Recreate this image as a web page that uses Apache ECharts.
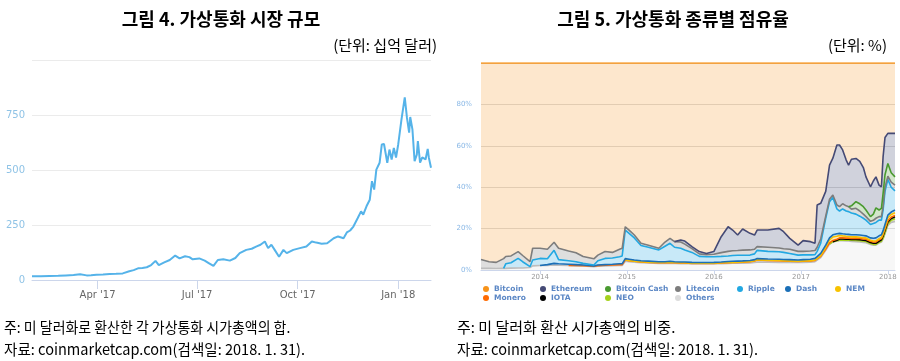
<!DOCTYPE html>
<html><head><meta charset="utf-8">
<script src="https://cdn.jsdelivr.net/npm/echarts@6/dist/echarts.min.js"></script>
<style>html,body{margin:0;padding:0;background:#fff}#c{width:900px;height:361px}</style>
</head><body><div id="c"></div>
<script>
// ---------- Figure 4: total market cap (billion USD) ----------
const capDates = ['2017-01-31','2017-02-08','2017-02-16','2017-02-24','2017-03-03','2017-03-10','2017-03-16','2017-03-22','2017-03-26','2017-03-31',
'2017-04-06','2017-04-12','2017-04-18','2017-04-24','2017-04-30','2017-05-04','2017-05-08','2017-05-12','2017-05-16','2017-05-20',
'2017-05-24','2017-05-27','2017-06-01','2017-06-06','2017-06-11','2017-06-15','2017-06-20','2017-06-24','2017-06-27','2017-07-03',
'2017-07-08','2017-07-12','2017-07-16','2017-07-20','2017-07-25','2017-07-31','2017-08-05','2017-08-09','2017-08-15','2017-08-20',
'2017-08-24','2017-08-28','2017-09-01','2017-09-04','2017-09-07','2017-09-10','2017-09-14','2017-09-18','2017-09-21','2017-09-27',
'2017-10-03','2017-10-09','2017-10-14','2017-10-18','2017-10-23','2017-10-28','2017-11-03','2017-11-07','2017-11-12','2017-11-15',
'2017-11-18','2017-11-21','2017-11-25','2017-11-28','2017-11-30','2017-12-03','2017-12-06','2017-12-08','2017-12-10','2017-12-12',
'2017-12-15','2017-12-17','2017-12-19','2017-12-20','2017-12-22','2017-12-24','2017-12-26','2017-12-28','2017-12-30','2018-01-01',
'2018-01-04','2018-01-07','2018-01-09','2018-01-10','2018-01-11','2018-01-12','2018-01-14','2018-01-16','2018-01-18','2018-01-19',
'2018-01-21','2018-01-23','2018-01-26','2018-01-28','2018-01-29','2018-01-31'];
const capValues = [17,17,18,19,21,23,26,21,22,24,
25,27,28,30,40,45,53,55,58,68,
87,68,80,91,111,98,108,104,94,98,
88,76,64,91,94,88,100,122,137,142,
152,160,175,145,160,137,106,137,122,137,
145,152,175,170,165,167,190,198,190,216,
225,243,282,312,297,335,365,449,411,502,
533,616,618,616,533,593,548,600,557,616,
730,830,738,740,670,741,685,540,570,631,
533,557,548,596,557,510];
const capXTicks = ['2017-04-01','2017-07-01','2017-10-01','2018-01-01'];
const monthNames = ['Jan','Feb','Mar','Apr','May','Jun','Jul','Aug','Sep','Oct','Nov','Dec'];

// ---------- Figure 5: dominance (%) ----------
const shareDates = ['2013-04-28','2013-06-01','2013-07-01','2013-08-01','2013-08-10','2013-09-01','2013-10-01','2013-10-20','2013-11-20','2013-12-01',
'2014-01-01','2014-02-01','2014-03-01','2014-03-20','2014-05-01','2014-06-01','2014-07-01','2014-08-15','2014-09-01','2014-10-01',
'2014-11-01','2014-12-01','2014-12-12','2014-12-25','2015-01-10','2015-02-01','2015-03-01','2015-04-01','2015-05-15','2015-06-10',
'2015-07-01','2015-07-20','2015-08-15','2015-09-01','2015-10-01','2015-11-01','2015-12-01','2016-01-01','2016-02-01','2016-03-01',
'2016-03-20','2016-04-10','2016-05-01','2016-06-01','2016-06-20','2016-07-01','2016-08-15','2016-10-01','2016-10-20','2016-11-15',
'2016-12-20','2017-01-10','2017-02-10','2017-03-01','2017-03-10','2017-03-25','2017-04-15','2017-05-01','2017-05-15','2017-06-01',
'2017-06-12','2017-06-25','2017-07-10','2017-07-20','2017-08-01','2017-08-20','2017-09-05','2017-09-20','2017-10-01','2017-10-20',
'2017-11-01','2017-11-12','2017-11-25','2017-12-05','2017-12-12','2017-12-20','2018-01-01','2018-01-15','2018-01-31'];
const N = null;
const others = [0.8,0.8,0.7,0.8,0.8,0.9,1.0,1.0,1.2,2.0,
2.2,2.2,2.4,2.3,2.2,2.0,1.9,1.6,1.8,2.0,
2.1,2.2,2.2,4.2,4.0,3.8,3.5,3.4,3.2,3.2,
3.3,3.2,3.1,3.1,3.0,3.0,3.0,3.0,3.1,3.2,
3.3,3.3,3.3,3.4,3.6,3.8,3.8,3.7,3.7,3.7,
3.6,3.7,3.8,4.0,4.8,6.0,9.5,12.5,13.5,14.0,
14.2,14.2,14.0,14.0,13.8,13.7,13.5,13.3,13.2,12.3,
12.0,12.0,13.0,13.5,15.0,17.5,21.5,23.0,23.5];
const neo = [N,N,N,N,N,N,N,N,N,N, N,N,N,N,N,N,N,N,N,N, N,N,N,N,N,N,N,N,N,N, N,N,N,N,N,N,N,N,N,N, N,N,N,N,N,N,N,N,N,N,
N,N,N,N,N,N,N,0,0.2,0.2,
0.2,0.3,0.4,0.4,0.6,0.6,0.6,0.6,0.6,0.5,
0.4,0.4,0.4,0.4,0.4,0.5,0.8,1.0,1.2];
const iota = [N,N,N,N,N,N,N,N,N,N, N,N,N,N,N,N,N,N,N,N, N,N,N,N,N,N,N,N,N,N, N,N,N,N,N,N,N,N,N,N, N,N,N,N,N,N,N,N,N,N,
N,N,N,N,N,N,N,N,0,0.2,
0.6,0.5,0.5,0.5,0.4,0.5,0.5,0.5,0.5,0.5,
0.5,0.5,0.5,0.7,1.1,1.2,0.9,0.9,1.0];
const monero = [N,N,N,N,N,N,N,N,N,N,
N,N,N,N,0,0.2,0.2,0.2,0.3,0.3,
0.3,0.4,0.4,0.6,0.5,0.4,0.4,0.3,0.3,0.3,
0.3,0.3,0.3,0.3,0.2,0.2,0.2,0.2,0.3,0.3,
0.3,0.4,0.5,0.6,0.8,1.0,0.8,0.8,0.7,0.6,
0.5,0.6,0.6,0.6,0.6,0.6,0.6,0.6,0.6,0.5,
0.5,0.5,0.5,0.5,0.5,0.6,0.6,0.6,0.6,0.6,
0.6,0.7,0.7,0.6,0.6,0.6,0.6,0.6,0.7];
const nem = [N,N,N,N,N,N,N,N,N,N,
N,N,N,N,N,N,N,N,N,N,
N,N,N,0,0.1,0.1,0.1,0.1,0.1,0.1,
0.1,0.1,0.1,0.1,0.1,0.1,0.1,0.1,0.1,0.1,
0.1,0.1,0.1,0.1,0.1,0.1,0.1,0.1,0.1,0.1,
0.1,0.1,0.1,0.2,0.2,0.4,0.9,1.4,1.6,1.4,
1.2,1.0,0.9,0.8,0.7,0.6,0.6,0.6,0.6,0.5,
0.5,0.5,0.5,0.5,0.6,0.9,1.4,1.3,1.3];
const dash = [N,N,N,N,N,N,N,N,N,N,
0,0.4,0.8,0.7,0.6,0.4,0.3,0.2,0.3,0.3,
0.4,0.4,0.4,0.7,0.6,0.5,0.5,0.5,0.4,0.4,
0.5,0.4,0.4,0.4,0.4,0.3,0.3,0.4,0.4,0.5,
0.5,0.5,0.5,0.5,0.5,0.6,0.6,0.6,0.6,0.6,
0.6,0.6,0.7,0.8,0.9,1.0,1.0,1.0,1.1,1.2,
1.0,1.0,1.0,1.0,1.0,1.0,1.1,1.1,1.0,1.1,
1.3,1.4,1.4,1.3,1.3,1.3,1.3,1.2,1.3];
const ripple = [N,N,N,0,2.2,2.6,4.6,3.0,0.4,2.8,
3.4,2.8,6.3,2.0,1.7,1.4,0.8,0.4,2.1,3.0,
3.0,3.4,3.8,13.8,12.5,10.7,7.3,6.7,5.7,7.5,
8.7,7.0,6.6,5.8,4.8,3.0,2.8,2.7,2.7,2.7,
2.8,2.8,2.7,2.6,2.8,4.0,3.7,3.6,3.4,3.0,
2.4,2.3,2.1,1.8,2.5,5.0,13.0,17.5,18.0,12.0,
10.8,12.0,11.2,11.0,10.5,10.0,9.1,8.3,7.6,6.5,
7.2,7.5,7.6,7.1,10.0,16.0,17.3,12.0,9.2];
const litecoin = [4.3,3.2,3.0,4.7,3.5,3.3,3.3,3.0,2.4,5.7,
4.9,4.6,3.9,5.5,4.7,4.3,3.3,3.0,2.7,3.3,
2.7,3.6,3.7,1.6,1.6,1.4,1.1,1.0,0.8,2.0,
2.4,2.7,3.0,2.8,1.8,1.2,1.0,1.2,1.8,2.2,
2.3,2.3,2.5,2.5,2.2,1.8,2.0,1.8,1.8,2.0,
1.8,1.7,1.9,2.0,2.0,2.0,1.0,1.2,1.2,1.9,
2.1,2.5,2.5,2.4,1.9,2.8,2.5,2.0,1.7,1.5,
1.5,2.0,1.7,1.7,1.6,2.0,1.5,2.5,2.8];
const bitcoinCash = [N,N,N,N,N,N,N,N,N,N, N,N,N,N,N,N,N,N,N,N, N,N,N,N,N,N,N,N,N,N, N,N,N,N,N,N,N,N,N,N, N,N,N,N,N,N,N,N,N,N, N,N,N,N,N,N,N,N,N,N,
N,N,N,0,1.6,3.2,3.5,3.6,3.2,2.3,
3.0,5.0,3.2,4.0,6.4,6.0,6.2,4.5,4.0];
const ethereum = [N,N,N,N,N,N,N,N,N,N,
N,N,N,N,N,N,N,N,N,N,
N,N,N,N,N,N,N,N,N,N,
N,0,1.0,1.5,1.0,1.1,0.6,1.3,7.7,11.9,
10.0,7.5,10.2,8.0,6.9,8.0,8.3,9.5,8.2,5.3,
3.0,5.2,4.5,3.5,20.4,17.2,12.0,16.5,17.8,29.0,
29.8,26.0,22.1,20.1,22.5,20.9,20.5,18.9,16.0,14.4,
16.0,15.0,12.0,10.4,17.8,18.0,14.5,19.0,21.0];
const bitcoin = [94.9,96.0,96.3,94.5,93.5,93.2,91.1,93.0,96.0,89.5,
89.5,90.0,86.6,89.5,90.8,91.7,93.5,94.6,92.8,91.1,
91.5,90.0,89.5,79.1,80.7,83.1,87.1,88.0,89.5,86.5,
84.7,86.3,85.5,86.0,88.7,91.1,92.0,91.1,83.9,79.1,
80.7,83.1,80.2,82.3,83.1,80.7,80.7,79.9,81.5,84.7,
88.0,85.8,86.3,87.1,68.6,67.8,62.0,49.3,46.0,39.6,
39.6,42.0,46.9,49.3,46.5,46.1,47.5,50.5,55.0,59.8,
57.0,55.0,59.0,59.8,45.2,36.0,34.0,34.0,34.0];
const shareXTicks = ['2014-01-01','2015-01-01','2016-01-01','2017-01-01','2018-01-01'];

// stacking order bottom -> top: [name, values, line colour, fill opacity]
const shareSeriesDefs = [
  ['Others', others, '#bdbdbd', 0.12],
  ['NEO', neo, '#a4d11c', 0.25],
  ['IOTA', iota, '#000000', 0.25],
  ['Monero', monero, '#ff6a00', 0.25],
  ['NEM', nem, '#f7c200', 0.25],
  ['Dash', dash, '#1a6fb7', 0.25],
  ['Ripple', ripple, '#22a8e2', 0.25],
  ['Litecoin', litecoin, '#7d7d7d', 0.25],
  ['Bitcoin Cash', bitcoinCash, '#4a9a30', 0.25],
  ['Ethereum', ethereum, '#454a75', 0.25],
  ['Bitcoin', bitcoin, '#f7931a', 0.22]
];

function ts(s){ const p = s.split('-').map(Number); return Date.UTC(p[0], p[1]-1, p[2]); }
function fmtMonth(v){ const d = new Date(v); return monthNames[d.getUTCMonth()] + " '" + String(d.getUTCFullYear()).slice(2); }

const chart = echarts.init(document.getElementById('c'), null, {renderer:'canvas'});

const series = [{
  type:'line', name:'cap', xAxisIndex:0, yAxisIndex:0,
  data: capDates.map((d,i)=>[ts(d), capValues[i]]),
  showSymbol:false, symbol:'none',
  lineStyle:{color:'#55b3e9', width:2}, itemStyle:{color:'#55b3e9'},
  silent:true
}];
// value first so that the stack is applied on the y (value) dimension
shareSeriesDefs.forEach(([name, arr, color, op])=>{
  series.push({
    type:'line', name, xAxisIndex:1, yAxisIndex:1, stack:'share',
    data: shareDates.map((d,i)=>[arr[i], ts(d)]),
    encode:{x:1, y:0},
    showSymbol:false, symbol:'none', connectNulls:false,
    lineStyle:{color, width:1.6}, itemStyle:{color: name==='Others' ? '#dcdcdc' : color},
    areaStyle:{color, opacity:op}, silent:true
  });
});

const legendCols = [
  [483, ['Bitcoin','Monero']],
  [540, ['Ethereum','IOTA']],
  [605, ['Bitcoin Cash','NEO']],
  [675, ['Litecoin','Others']],
  [737, ['Ripple']],
  [785, ['Dash']],
  [835, ['NEM']]
];
const legends = legendCols.map(([x, names])=>({
  orient:'vertical', left:x, top:285, padding:0, itemGap:1,
  itemWidth:6, itemHeight:6, icon:'circle', data:names, selectedMode:false,
  textStyle:{fontSize:7.5, fontWeight:'bold', color:'#5b87c5', fontFamily:'DejaVu Sans', lineHeight:7}
}));

const cjk = '"Noto Sans CJK KR", sans-serif';
const option = {
  animation:false,
  grid:[
    {left:32, top:60, width:399, height:220},
    {left:481, top:63, width:414, height:207}
  ],
  xAxis:[
    {type:'value', gridIndex:0, min:ts('2017-01-31'), max:ts('2018-01-31'),
     axisLine:{show:true, onZero:false, lineStyle:{color:'#ccd6eb'}},
     axisTick:{show:true, length:9, lineStyle:{color:'#ccd6eb'}, customValues: capXTicks.map(ts)},
     axisLabel:{color:'#666', fontSize:10, fontFamily:'DejaVu Sans', margin:10, customValues: capXTicks.map(ts), formatter: fmtMonth},
     splitLine:{show:false}},
    {type:'value', gridIndex:1, min:ts('2013-04-28'), max:ts('2018-01-31'),
     axisLine:{show:true, onZero:false, lineStyle:{color:'#ccd6eb'}},
     axisTick:{show:true, length:4, lineStyle:{color:'#ccd6eb'}, customValues: shareXTicks.map(ts)},
     axisLabel:{color:'#999', fontSize:7, fontFamily:'DejaVu Sans', margin:4, customValues: shareXTicks.map(ts),
       formatter:(v)=>String(new Date(v).getUTCFullYear())},
     splitLine:{show:false}}
  ],
  yAxis:[
    {type:'value', gridIndex:0, min:0, max:1000, interval:250,
     axisLine:{show:false}, axisTick:{show:false},
     axisLabel:{color:'#8fc3e6', fontSize:10, fontFamily:'DejaVu Sans', margin:7, showMaxLabel:false},
     splitLine:{lineStyle:{color:'#ebebeb'}}},
    {type:'value', gridIndex:1, min:0, max:100, interval:20,
     axisLine:{show:false}, axisTick:{show:false},
     axisLabel:{color:'#8ab8e6', fontSize:7, fontFamily:'DejaVu Sans', margin:9, showMaxLabel:false, formatter:'{value}%'},
     splitLine:{lineStyle:{color:'#dddddd'}}}
  ],
  legend: legends,
  series,
  graphic:[
    {type:'text', x:221, y:19, style:{text:'그림 4. 가상통화 시장 규모', fontFamily:cjk, fontSize:18, fontWeight:'bold', fill:'#000', align:'center', verticalAlign:'middle'}},
    {type:'text', x:673, y:19, style:{text:'그림 5. 가상통화 종류별 점유율', fontFamily:cjk, fontSize:18, fontWeight:'bold', fill:'#000', align:'center', verticalAlign:'middle'}},
    {type:'text', x:437, y:45, style:{text:'(단위: 십억 달러)', fontFamily:cjk, fontSize:15, fill:'#000', align:'right', verticalAlign:'middle'}},
    {type:'text', x:887, y:45, style:{text:'(단위: %)', fontFamily:cjk, fontSize:15, fill:'#000', align:'right', verticalAlign:'middle'}},
    {type:'text', x:4, y:327, scaleX:0.93, style:{text:'주: 미 달러화로 환산한 각 가상통화 시가총액의 합.', fontFamily:cjk, fontSize:15, fill:'#000', align:'left', verticalAlign:'middle'}},
    {type:'text', x:4, y:349, scaleX:0.97, style:{text:'자료: coinmarketcap.com(검색일: 2018. 1. 31).', fontFamily:cjk, fontSize:15, fill:'#000', align:'left', verticalAlign:'middle'}},
    {type:'text', x:457, y:327, scaleX:1.0, style:{text:'주: 미 달러화 환산 시가총액의 비중.', fontFamily:cjk, fontSize:15, fill:'#000', align:'left', verticalAlign:'middle'}},
    {type:'text', x:457, y:349, scaleX:0.97, style:{text:'자료: coinmarketcap.com(검색일: 2018. 1. 31).', fontFamily:cjk, fontSize:15, fill:'#000', align:'left', verticalAlign:'middle'}}
  ]
};
chart.setOption(option);
</script></body></html>
